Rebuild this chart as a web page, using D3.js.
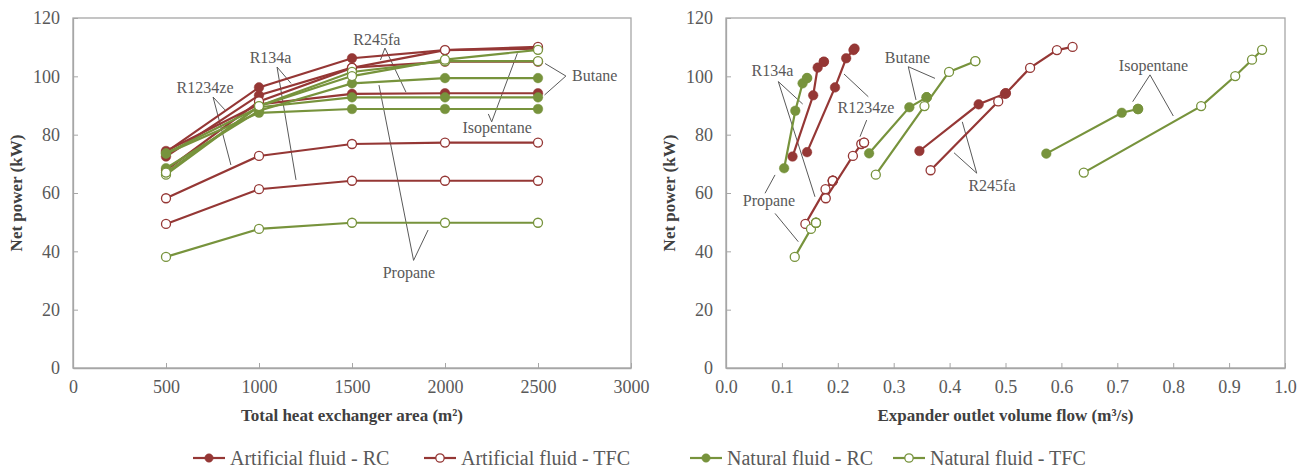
<!DOCTYPE html>
<html>
<head>
<meta charset="utf-8">
<script src="https://cdn.jsdelivr.net/npm/d3@7"></script>
<style>
  body { margin: 0; background: #fff; }
  svg text { font-family: "Liberation Serif", "Times New Roman", Times, serif; }
  .tick text { fill: #595959; font-size: 18px; }
  .ann { fill: #595959; font-size: 16px; }
  .title { fill: #404040; font-size: 17px; font-weight: bold; }
  .legend text { fill: #595959; font-size: 20px; }
</style>
</head>
<body>
<svg id="chart" width="1308" height="470"></svg>
<script>
// heat exchanger area steps (m2)
var areas = [500, 1000, 1500, 2000, 2500];

// net power (kW) at each area, per fluid and cycle
var powerR134aRC      = [72.5, 93.5, 103.0, 105.0, 105.0];
var powerR1234zeRC    = [74.0, 96.2, 106.2, 109.0, 109.5];
var powerR245faRC     = [74.4, 90.4, 94.0, 94.2, 94.2];
var powerR134aTFC     = [49.4, 61.3, 64.2, 64.2, 64.2];
var powerR1234zeTFC   = [58.2, 72.7, 76.8, 77.3, 77.3];
var powerR245faTFC    = [67.8, 91.4, 102.9, 109.0, 110.1];
var powerPropaneRC    = [68.5, 88.2, 97.6, 99.4, 99.4];
var powerButaneRC     = [73.6, 89.4, 92.8, 92.8, 92.8];
var powerIsopentaneRC = [73.5, 87.5, 88.8, 88.8, 88.8];
var powerPropaneTFC   = [38.1, 47.7, 49.8, 49.8, 49.8];
var powerButaneTFC    = [66.3, 89.8, 101.5, 105.2, 105.2];
var powerIsopentaneTFC= [67.0, 89.8, 100.1, 105.7, 109.1];

// expander outlet volume flow (m3/s) at each area
var flowR134aRC      = [0.119, 0.156, 0.164, 0.175, 0.175];
var flowR1234zeRC    = [0.145, 0.195, 0.215, 0.228, 0.230];
var flowR245faRC     = [0.346, 0.452, 0.499, 0.5005, 0.5005];
var flowR134aTFC     = [0.142, 0.178, 0.191, 0.191, 0.191];
var flowR1234zeTFC   = [0.1785, 0.227, 0.242, 0.247, 0.247];
var flowR245faTFC    = [0.366, 0.487, 0.544, 0.592, 0.620];
var flowPropaneRC    = [0.104, 0.124, 0.137, 0.145, 0.145];
var flowButaneRC     = [0.256, 0.328, 0.359, 0.359, 0.359];
var flowIsopentaneRC = [0.573, 0.708, 0.737, 0.737, 0.737];
var flowPropaneTFC   = [0.123, 0.152, 0.161, 0.161, 0.161];
var flowButaneTFC    = [0.268, 0.355, 0.399, 0.446, 0.446];
var flowIsopentaneTFC= [0.640, 0.850, 0.911, 0.941, 0.959];

var groups = ["Artificial fluid - RC", "Artificial fluid - TFC", "Natural fluid - RC", "Natural fluid - TFC"];

var series = [
  {g: 0, power: powerR134aRC, flow: flowR134aRC},
  {g: 0, power: powerR1234zeRC, flow: flowR1234zeRC},
  {g: 0, power: powerR245faRC, flow: flowR245faRC},
  {g: 1, power: powerR134aTFC, flow: flowR134aTFC},
  {g: 1, power: powerR1234zeTFC, flow: flowR1234zeTFC},
  {g: 1, power: powerR245faTFC, flow: flowR245faTFC},
  {g: 2, power: powerPropaneRC, flow: flowPropaneRC},
  {g: 2, power: powerButaneRC, flow: flowButaneRC},
  {g: 2, power: powerIsopentaneRC, flow: flowIsopentaneRC},
  {g: 3, power: powerPropaneTFC, flow: flowPropaneTFC},
  {g: 3, power: powerButaneTFC, flow: flowButaneTFC},
  {g: 3, power: powerIsopentaneTFC, flow: flowIsopentaneTFC}
];

var red = "#953735", green = "#77933c";
var colors = [red, red, green, green];
var filled = [true, false, true, false];

// callouts: label [x, y] and leader segments, in data units
var annLeft = [
  {t: "R1234ze", at: [710, 94.3], lines: [[[753, 92.9], [817, 88.5]], [[753, 92.9], [849, 69.6]]]},
  {t: "R134a", at: [1062, 104.6], lines: [[[1097, 103.2], [1172, 97.6]], [[1097, 103.2], [1199, 64.5]]]},
  {t: "R245fa", at: [1634, 110.7], lines: [[[1677, 109.7], [1653, 105.6]], [[1677, 109.7], [1790, 94.6]]]},
  {t: "Butane", at: [2683, 98.4], anchor: "start", lines: [[[2650, 100.1], [2538, 104.4]], [[2650, 100.1], [2535, 93.6]]]},
  {t: "Isopentane", at: [2280, 80.6], lines: [[[2251, 84.4], [2233, 87.1]], [[2251, 84.4], [2389, 107.9]]]},
  {t: "Propane", at: [1806, 30.9], lines: [[[1831, 36.9], [1645, 97.0]], [[1831, 36.9], [1909, 47.3]]]}
];
var annRight = [
  {t: "R134a", at: [0.0832, 100.1], lines: [[[0.0936, 98.2], [0.1372, 90.5]], [[0.0936, 98.2], [0.1592, 58.7]]]},
  {t: "Propane", at: [0.0769, 55.5], lines: [[[0.0698, 59.9], [0.0877, 66.2]], [[0.0877, 53.0], [0.1293, 43.3]]]},
  {t: "R1234ze", at: [0.2504, 87.4], lines: [[[0.2111, 100.8], [0.2546, 93.0]], [[0.2397, 79.3], [0.2517, 85.0]]]},
  {t: "Butane", at: [0.3247, 104.6], lines: [[[0.3261, 103.3], [0.3739, 99.3]], [[0.3261, 103.3], [0.3399, 91.9]]]},
  {t: "R245fa", at: [0.4758, 60.7], lines: [[[0.4485, 66.8], [0.4079, 73.8]], [[0.4485, 66.8], [0.4227, 84.4]]]},
  {t: "Isopentane", at: [0.7648, 101.8], lines: [[[0.7585, 100.5], [0.7275, 91.3]], [[0.7585, 100.5], [0.8002, 86.4]]]}
];

var svg = d3.select("#chart");
var plotTop = 18, plotBottom = 368;

function panel(opt) {
  var x = d3.scaleLinear().domain(opt.xDomain).range([opt.left, opt.right]);
  var y = d3.scaleLinear().domain([0, 120]).range([plotBottom, plotTop]);
  var g = svg.append("g");

  // frame
  g.append("rect")
    .attr("x", opt.left).attr("y", plotTop)
    .attr("width", opt.right - opt.left).attr("height", plotBottom - plotTop)
    .attr("fill", "none").attr("stroke", "#a6a6a6").attr("stroke-width", 1.3);

  var xAxis = g.append("g")
    .attr("transform", "translate(0," + plotBottom + ")")
    .call(d3.axisBottom(x).tickValues(opt.xTicks).tickFormat(opt.xFormat).tickSizeInner(-5).tickSizeOuter(0).tickPadding(12));
  var yAxis = g.append("g")
    .attr("transform", "translate(" + opt.left + ",0)")
    .call(d3.axisLeft(y).tickValues(d3.range(0, 121, 20)).tickSizeInner(-5).tickSizeOuter(0).tickPadding(13));
  [xAxis, yAxis].forEach(function(a) {
    a.attr("font-family", null).attr("font-size", null);
    a.select(".domain").attr("stroke", "#a6a6a6").attr("stroke-width", 1.3);
    a.selectAll(".tick line").attr("stroke", "#a6a6a6");
  });

  // titles
  g.append("text").attr("class", "title")
    .attr("x", (opt.left + opt.right) / 2).attr("y", 421)
    .attr("text-anchor", "middle").text(opt.xTitle);
  g.append("text").attr("class", "title")
    .attr("transform", "translate(" + opt.yTitleX + "," + ((plotTop + plotBottom) / 2) + ") rotate(-90)")
    .attr("text-anchor", "middle").text("Net power (kW)");

  // callout leaders under the lines
  opt.ann.forEach(function(a) {
    a.lines.forEach(function(l) {
      g.append("line")
        .attr("x1", x(l[0][0])).attr("y1", y(l[0][1]))
        .attr("x2", x(l[1][0])).attr("y2", y(l[1][1]))
        .attr("stroke", "#595959").attr("stroke-width", 1);
    });
    g.append("text").attr("class", "ann")
      .attr("x", x(a.at[0])).attr("y", y(a.at[1]))
      .attr("text-anchor", a.anchor || "middle").text(a.t);
  });

  var line = d3.line().x(function(d) { return x(d[0]); }).y(function(d) { return y(d[1]); });

  series.forEach(function(s) {
    var pts = s.power.map(function(p, i) { return [opt.xVal(s, i), p]; });
    var c = colors[s.g];
    g.append("path").datum(pts)
      .attr("d", line).attr("fill", "none")
      .attr("stroke", c).attr("stroke-width", 2.2);
    g.selectAll(null).data(pts).enter().append("circle")
      .attr("cx", function(d) { return x(d[0]); })
      .attr("cy", function(d) { return y(d[1]); })
      .attr("r", filled[s.g] ? 4.8 : 4.5)
      .attr("fill", filled[s.g] ? c : "#fff")
      .attr("stroke", c).attr("stroke-width", filled[s.g] ? 0.5 : 1.3);
  });
}

panel({
  left: 73, right: 631,
  xDomain: [0, 3000], xTicks: d3.range(0, 3001, 500), xFormat: d3.format("d"),
  xVal: function(s, i) { return areas[i]; },
  xTitle: "Total heat exchanger area (m\u00b2)", yTitleX: 22, ann: annLeft
});
panel({
  left: 726, right: 1285,
  xDomain: [0, 1], xTicks: d3.range(0, 11).map(function(d) { return d / 10; }), xFormat: d3.format(".1f"),
  xVal: function(s, i) { return s.flow[i]; },
  xTitle: "Expander outlet volume flow (m\u00b3/s)", yTitleX: 675, ann: annRight
});

// legend
var legX = [193, 424, 690, 893];
var leg = svg.append("g").attr("class", "legend").attr("transform", "translate(0,458)");
groups.forEach(function(name, i) {
  var it = leg.append("g").attr("transform", "translate(" + legX[i] + ",0)");
  it.append("line").attr("x1", 0).attr("x2", 32).attr("stroke", colors[i]).attr("stroke-width", 2.2);
  it.append("circle").attr("cx", 16).attr("r", 4.2)
    .attr("fill", filled[i] ? colors[i] : "#fff")
    .attr("stroke", colors[i]).attr("stroke-width", filled[i] ? 0.5 : 1.3);
  it.append("text").attr("x", 37).attr("y", 7).text(name);
});
</script>
</body>
</html>
